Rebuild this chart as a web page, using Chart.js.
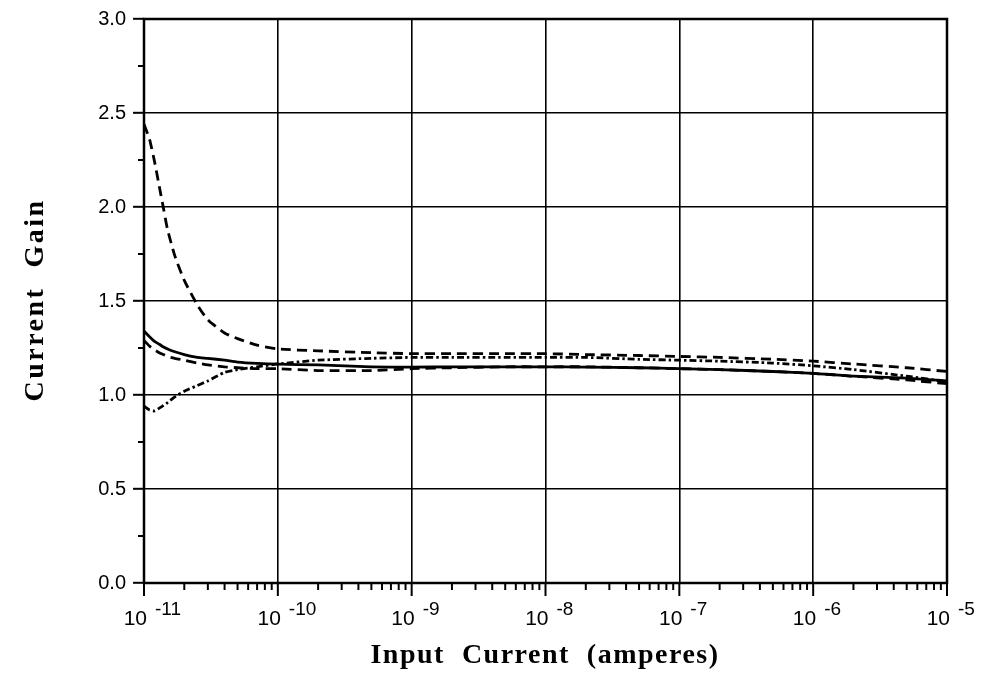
<!DOCTYPE html>
<html>
<head>
    <title>Current Gain</title>
    <script src="https://cdn.jsdelivr.net/npm/chart.js"></script>
    <style>
        body { margin: 0; background: #fff; }
        canvas { display: block; }
    </style>
</head>
<body>
    <canvas id="gainChart" width="985" height="695"></canvas>
<script>
// input current (amperes) for every sample
const currents = [1e-11, 1.1e-11, 1.2e-11, 1.3e-11, 1.4e-11, 1.5e-11, 1.7e-11, 2e-11, 2.5e-11, 3e-11,
    4e-11, 5e-11, 7e-11, 1e-10, 2e-10, 5e-10, 1e-9, 2e-9, 5e-9, 1e-8,
    2e-8, 5e-8, 1e-7, 2e-7, 5e-7, 1e-6, 2e-6, 5e-6, 1e-5];

// current gain curves
const gainSolid = [1.34, 1.31, 1.285, 1.27, 1.255, 1.245, 1.23, 1.215, 1.20, 1.195,
    1.185, 1.175, 1.168, 1.164, 1.16, 1.15, 1.148, 1.15, 1.15, 1.15,
    1.148, 1.145, 1.14, 1.135, 1.125, 1.115, 1.10, 1.09, 1.075];
const gainDashHigh = [2.44, 2.36, 2.24, 2.11, 1.99, 1.88, 1.74, 1.61, 1.48, 1.40,
    1.33, 1.30, 1.265, 1.245, 1.235, 1.225, 1.22, 1.22, 1.22, 1.22,
    1.215, 1.21, 1.205, 1.20, 1.19, 1.18, 1.165, 1.145, 1.125];
const gainDashLow = [1.29, 1.26, 1.24, 1.225, 1.215, 1.205, 1.195, 1.185, 1.17, 1.16,
    1.15, 1.145, 1.14, 1.14, 1.13, 1.13, 1.14, 1.145, 1.15, 1.15,
    1.15, 1.145, 1.14, 1.135, 1.125, 1.115, 1.10, 1.08, 1.06];
const gainDashDot = [0.94, 0.92, 0.915, 0.93, 0.945, 0.96, 0.99, 1.02, 1.05, 1.075,
    1.12, 1.135, 1.15, 1.165, 1.185, 1.195, 1.20, 1.20, 1.20, 1.20,
    1.20, 1.19, 1.185, 1.18, 1.17, 1.155, 1.135, 1.10, 1.07];

// axis ticks
const decadeExponents = [-11, -10, -9, -8, -7, -6, -5];
const gainTicks = [0, 0.5, 1.0, 1.5, 2.0, 2.5, 3.0];

function toPoints(ys) {
    return currents.map((c, i) => ({ x: c, y: ys[i] }));
}

// frame, minor ticks, superscript labels and axis titles
const axisDecor = {
    id: 'axisDecor',
    afterDraw(chart) {
        const ctx = chart.ctx;
        const a = chart.chartArea;
        const xs = chart.scales.x;
        const ys = chart.scales.y;
        ctx.save();
        ctx.strokeStyle = '#000';
        ctx.fillStyle = '#000';

        // minor y ticks
        ctx.lineWidth = 2;
        for (let i = 0; i < gainTicks.length - 1; i++) {
            const py = ys.getPixelForValue((gainTicks[i] + gainTicks[i + 1]) / 2);
            ctx.beginPath();
            ctx.moveTo(a.left - 6, py);
            ctx.lineTo(a.left, py);
            ctx.stroke();
        }

        // x ticks: decades long, 2..9 short
        decadeExponents.forEach((e, i) => {
            const px = xs.getPixelForValue(Math.pow(10, e));
            ctx.lineWidth = 2;
            ctx.beginPath();
            ctx.moveTo(px, a.bottom);
            ctx.lineTo(px, a.bottom + 13);
            ctx.stroke();
            if (i < decadeExponents.length - 1) {
                for (let m = 2; m <= 9; m++) {
                    const mx = xs.getPixelForValue(m * Math.pow(10, e));
                    ctx.beginPath();
                    ctx.moveTo(mx, a.bottom);
                    ctx.lineTo(mx, a.bottom + 7);
                    ctx.stroke();
                }
            }
            ctx.textBaseline = 'alphabetic';
            ctx.font = '21px "Liberation Sans", Arial, sans-serif';
            ctx.textAlign = 'right';
            ctx.fillText('10', px + 3, a.bottom + 42);
            ctx.font = '19px "Liberation Sans", Arial, sans-serif';
            ctx.textAlign = 'left';
            ctx.fillText('-' + Math.abs(e), px + 11, a.bottom + 32);
        });

        // plot frame
        ctx.lineWidth = 2.5;
        ctx.strokeRect(a.left, a.top, a.right - a.left, a.bottom - a.top);

        // axis titles
        ctx.font = 'bold 28px "Liberation Serif", "Times New Roman", serif';
        ctx.letterSpacing = '1.5px';
        ctx.textAlign = 'center';
        ctx.textBaseline = 'middle';
        ctx.fillText('Input  Current  (amperes)', 545, 656);
        ctx.translate(36, 300);
        ctx.rotate(-Math.PI / 2);
        ctx.letterSpacing = '2.5px';
        ctx.fillText('Current  Gain', 0, 0);
        ctx.restore();
    }
};

const lineStyle = { borderColor: '#000', borderWidth: 2.8, pointRadius: 0, fill: false, tension: 0.2 };
const gridStyle = { color: '#000', lineWidth: 1.6, borderDash: [1.2, 1.8] };

new Chart(document.getElementById('gainChart'), {
    type: 'line',
    data: {
        datasets: [
            Object.assign({ label: 'solid', data: toPoints(gainSolid) }, lineStyle),
            Object.assign({ label: 'dash high', data: toPoints(gainDashHigh), borderDash: [10, 6] }, lineStyle),
            Object.assign({ label: 'dash low', data: toPoints(gainDashLow), borderDash: [10, 6] }, lineStyle),
            Object.assign({ label: 'dash dot', data: toPoints(gainDashDot), borderDash: [7, 3, 2.5, 3] }, lineStyle)
        ]
    },
    options: {
        responsive: false,
        animation: false,
        layout: { padding: { top: 17, right: 38, left: 0, bottom: 0 } },
        plugins: { legend: { display: false }, tooltip: { enabled: false } },
        scales: {
            x: {
                type: 'logarithmic',
                min: 1e-11,
                max: 1e-5,
                afterBuildTicks: scale => {
                    scale.ticks = decadeExponents.map(e => ({ value: Math.pow(10, e) }));
                },
                afterFit: scale => { scale.height = 112; },
                ticks: { display: false },
                border: { display: false },
                grid: Object.assign({ drawTicks: false }, gridStyle)
            },
            y: {
                min: 0,
                max: 3,
                afterBuildTicks: scale => {
                    scale.ticks = gainTicks.map(v => ({ value: v }));
                },
                afterFit: scale => { scale.width = 144; },
                ticks: {
                    color: '#000',
                    padding: 7,
                    font: { family: '"Liberation Sans", Arial, sans-serif', size: 20 },
                    callback: v => Number(v).toFixed(1)
                },
                border: { display: false },
                grid: Object.assign({
                    tickColor: '#000', tickBorderDash: [], tickLength: 11, tickWidth: 2
                }, gridStyle)
            }
        }
    },
    plugins: [axisDecor]
});
</script>
</body>
</html>
